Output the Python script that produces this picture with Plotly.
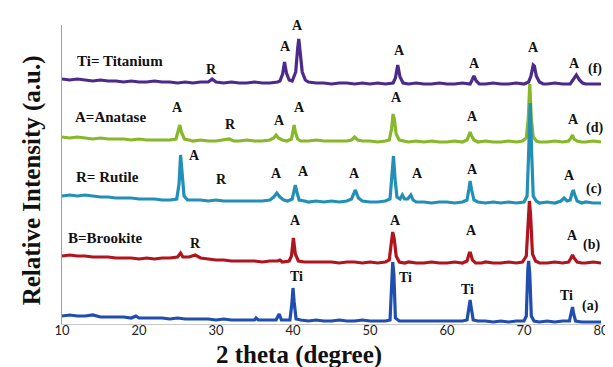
import plotly.graph_objects as go

# ---------------- data ----------------
# (f) purple
two_theta_f = [10, 11, 12, 13, 14, 15, 16, 17, 18, 19, 20, 21, 22, 23, 24, 25, 26, 27, 28, 29, 29.5, 30,
               31, 32, 33, 34, 35, 36, 37, 38, 38.3, 38.65, 38.9, 39.15, 39.5, 39.9, 40.35, 40.6, 40.75,
               40.9, 41.2, 41.6, 42, 43, 44, 45, 46, 47, 48, 49, 50, 51, 52, 53, 53.3, 53.6, 53.9, 54.3,
               55, 56, 57, 58, 59, 60, 61, 62, 63, 63.2, 63.5, 63.8, 64.2, 65, 66, 67, 68, 69, 70, 70.6,
               70.9, 71.2, 71.35, 71.6, 72, 72.5, 73, 74, 75, 76, 76.4, 76.8, 77.2, 77.6, 78, 79, 80]
intensity_f = [245, 244, 245, 244, 243, 244, 243, 243, 242, 243, 242, 242, 243, 242, 242, 241, 242, 241, 242, 242, 245, 242,
               241, 242, 241, 241, 242, 241, 241, 242, 243, 250, 262, 251, 244, 243, 252, 275, 285,
               274, 252, 244, 242, 241, 241, 240, 241, 241, 240, 241, 240, 241, 240, 241, 246, 259, 247, 241,
               240, 241, 240, 240, 241, 240, 240, 241, 240, 243, 248, 243, 240, 240, 241, 240, 240, 241, 240, 242,
               248, 259, 258, 248, 242, 240, 240, 241, 240, 240, 244, 249, 244, 241, 240, 240, 240]

# (d) green
two_theta_d = [10, 11, 12, 13, 14, 15, 16, 17, 18, 19, 20, 21, 22, 23, 24, 24.8, 25.1, 25.3, 25.5, 25.9, 26.5,
               27, 28, 29, 30, 31, 31.7, 32.3, 33, 34, 35, 36, 37, 37.5, 37.8, 38.1, 38.6, 39.2, 39.8, 40.0,
               40.15, 40.3, 40.6, 41, 42, 43, 44, 45, 46, 47, 47.6, 48, 48.4, 49, 50, 51, 52, 52.5, 52.8,
               53.0, 53.15, 53.4, 53.8, 54.5, 55, 56, 57, 58, 59, 60, 61, 62, 62.6, 62.85, 63.0, 63.2, 63.5,
               64, 65, 66, 67, 68, 69, 69.8, 70.3, 70.55, 70.75, 70.95, 71.2, 71.6, 72, 73, 74, 75, 75.8,
               76.1, 76.3, 76.5, 76.9, 77.5, 78, 79, 80]
intensity_d = [187, 186, 187, 186, 185, 186, 185, 185, 185, 184, 185, 184, 184, 184, 184, 185, 192, 199, 192, 185, 184,
               183, 184, 183, 183, 184, 185, 183, 183, 184, 183, 183, 184, 186, 189, 186, 184, 183, 185, 193,
               199, 192, 185, 183, 183, 184, 183, 183, 183, 183, 184, 187, 184, 183, 183, 182, 183, 184, 195,
               210, 205, 190, 184, 183, 182, 183, 182, 183, 182, 182, 183, 182, 184, 189, 192, 188, 184,
               182, 183, 182, 182, 183, 182, 183, 186, 205, 240, 205, 187, 183, 182, 182, 183, 182, 183,
               186, 189, 185, 183, 182, 182, 183, 182]

# (c) cyan
two_theta_c = [10, 11, 12, 13, 14, 15, 16, 17, 18, 19, 20, 21, 22, 23, 24, 24.9, 25.2, 25.4, 25.6, 25.85, 26.3,
               27, 28, 29, 30, 31, 32, 33, 34, 35, 36, 37, 37.5, 37.9, 38.3, 38.8, 39.3, 39.9, 40.15, 40.3,
               40.5, 40.8, 41.5, 42, 43, 44, 45, 46, 47, 47.6, 48.1, 48.5, 49, 50, 51, 52, 52.6, 52.85, 53.05,
               53.25, 53.5, 53.9, 54.2, 54.5, 54.9, 55.3, 55.6, 56, 57, 58, 59, 60, 61, 62, 62.6, 62.85, 63.0,
               63.2, 63.5, 64, 65, 66, 67, 68, 69, 70, 70.4, 70.6, 70.8, 71.0, 71.2, 71.6, 72, 73, 74, 74.8,
               75.2, 75.6, 76.0, 76.2, 76.4, 76.6, 76.9, 77.5, 78, 79, 80]
intensity_c = [128, 129, 128, 129, 128, 127, 127, 126, 126, 126, 125, 125, 125, 124, 124, 125, 140, 169, 150, 128, 124,
               124, 124, 123, 124, 123, 123, 123, 123, 123, 123, 124, 127, 131, 127, 124, 123, 125, 133, 139,
               132, 124, 123, 122, 123, 122, 123, 122, 123, 125, 134, 126, 123, 122, 122, 123, 125, 145, 168,
               145, 127, 125, 129, 125, 125, 129, 124, 122, 122, 121, 122, 122, 121, 122, 124, 135, 143,
               134, 124, 122, 121, 122, 121, 122, 121, 122, 128, 170, 221, 170, 128, 123, 121, 122, 121, 123,
               126, 123, 124, 130, 134, 129, 123, 121, 122, 121, 121]

# (b) red
two_theta_b = [10, 11, 12, 13, 14, 15, 16, 17, 18, 19, 20, 21, 22, 23, 24, 25, 25.4, 25.7, 26.5, 27.3, 28, 29,
               30, 31, 32, 33, 34, 35, 36, 37, 38, 38.3, 38.6, 39.5, 39.8, 40.05, 40.3, 40.7, 41.5, 42, 43,
               44, 45, 46, 47, 48, 49, 50, 51, 52, 52.5, 52.75, 52.95, 53.15, 53.4, 53.8, 54.5, 55, 56, 57,
               58, 59, 60, 61, 62, 62.6, 62.9, 63.05, 63.3, 63.7, 64.5, 65, 66, 67, 68, 69, 69.8, 70.3,
               70.55, 70.7, 70.85, 71.1, 71.5, 72, 73, 74, 75, 75.8, 76.1, 76.3, 76.5, 76.9, 77.5, 78, 79, 80]
intensity_b = [68, 69, 68, 68, 67, 67, 67, 66, 66, 66, 65, 66, 65, 66, 66, 67, 71, 67, 67, 69, 66, 65,
               64, 64, 63, 63, 63, 63, 62, 63, 63, 64, 62, 63, 68, 86, 70, 63, 62, 62, 62,
               62, 62, 61, 62, 62, 61, 62, 61, 62, 64, 80, 92, 85, 68, 62, 61, 62, 61, 61,
               62, 61, 61, 62, 61, 63, 71, 71, 64, 61, 61, 62, 61, 61, 62, 61, 62, 68,
               110, 123, 110, 70, 63, 61, 61, 62, 61, 62, 66, 69, 66, 62, 61, 61, 62, 61]

# (a) blue
two_theta_a = [10, 11, 12, 13, 14, 15, 16, 17, 18, 19, 19.6, 20, 21, 22, 23, 24, 25, 26, 27, 28, 29, 30, 31,
               32, 33, 34, 35, 35.2, 35.5, 36, 37, 37.8, 38.2, 38.5, 39, 39.6, 39.85, 40.0, 40.15, 40.4, 41,
               42, 43, 44, 45, 46, 47, 48, 49, 50, 51, 52, 52.6, 52.8, 52.95, 53.1, 53.3, 53.8, 54.5, 55,
               56, 57, 58, 59, 60, 61, 62, 62.6, 62.85, 63.0, 63.15, 63.4, 64, 65, 66, 67, 68, 69, 70, 70.3,
               70.5, 70.6, 70.75, 70.95, 71.3, 72, 73, 74, 75, 75.9, 76.15, 76.3, 76.45, 76.7, 77.5, 78, 79, 80]
intensity_a = [8, 9, 8, 8, 9, 7, 7, 7, 7, 6, 8, 6, 6, 6, 6, 5, 6, 5, 5, 5, 5, 4, 5,
               4, 4, 4, 4, 6, 4, 4, 4, 4, 10, 4, 4, 4, 20, 36, 22, 5, 4,
               3, 4, 3, 3, 4, 3, 3, 4, 3, 3, 3, 4, 30, 62, 50, 6, 3, 3, 3,
               3, 3, 3, 3, 3, 3, 3, 4, 18, 24, 16, 4, 3, 3, 2, 3, 2, 3, 3, 8,
               55, 63, 50, 8, 3, 2, 3, 2, 3, 3, 12, 17, 10, 3, 2, 2, 2, 2]

series_names = ["(f)", "(d)", "(c)", "(b)", "(a)"]
series_colors = ["#4B2A8C", "#86B829", "#2290B6", "#B0141E", "#1F4DB0"]

# text labels (phase marks, legend-like texts, sample tags)
label_text = ["Ti= Titanium", "R", "A", "A", "A", "A", "A", "A", "(f)",
              "A=Anatase", "A", "R", "A", "A", "A", "A", "A", "(d)",
              "R= Rutile", "A", "R", "A", "A", "A", "A", "A", "A", "(c)",
              "B=Brookite", "R", "A", "A", "A", "A", "(b)",
              "Ti", "Ti", "Ti", "Ti", "(a)"]
label_x = [17.53, 29.35, 39.09, 40.52, 53.77, 63.51, 71.17, 76.62, 79.22,
           16.36, 24.94, 31.82, 38.31, 40.78, 53.38, 63.25, 76.49, 79.22,
           15.97, 27.27, 30.65, 37.92, 41.30, 48.05, 56.23, 63.25, 75.97, 79.09,
           15.58, 27.40, 40.26, 53.25, 63.12, 76.36, 78.83,
           40.39, 54.55, 62.60, 75.58, 78.70]
label_y = [263, 255, 278, 299, 274, 261, 277, 261, 255,
           207, 217, 200, 204, 217, 227, 208, 205, 196,
           147, 169, 145, 151, 153, 151, 151, 155, 149, 135,
           86, 81, 104, 104, 94, 89, 79,
           48, 47, 35, 29, 18]

x_ticks = [10, 20, 30, 40, 50, 60, 70, 80]
x_title = "2 theta (degree)"
y_title = "Relative Intensity (a.u.)"

# ---------------- figure ----------------
xs = [two_theta_f, two_theta_d, two_theta_c, two_theta_b, two_theta_a]
ys = [intensity_f, intensity_d, intensity_c, intensity_b, intensity_a]

fig = go.Figure()
for name, color, x, y in zip(series_names, series_colors, xs, ys):
    fig.add_trace(go.Scatter(x=x, y=y, mode="lines", name=name,
                             line=dict(color=color, width=3.2), showlegend=False,
                             hoverinfo="skip"))

serif = "Liberation Serif"
for t, x, y in zip(label_text, label_x, label_y):
    big = len(t) > 4
    fig.add_annotation(x=x, y=y, xref="x", yref="y", text="<b>%s</b>" % t,
                       showarrow=False, xanchor="center", yanchor="middle",
                       font=dict(family=serif, size=15 if big else 14, color="#111111"))

fig.add_annotation(xref="paper", yref="paper", x=0.44, y=-0.104, text="<b>%s</b>" % x_title,
                   showarrow=False, xanchor="center", yanchor="middle",
                   font=dict(family=serif, size=25, color="#111111"))
fig.add_annotation(xref="paper", yref="paper", x=-0.054, y=0.48, text="<b>%s</b>" % y_title,
                   textangle=-90, showarrow=False, xanchor="center", yanchor="middle",
                   font=dict(family=serif, size=25, color="#111111"))

fig.update_layout(
    width=613, height=367,
    margin=dict(l=54, r=20, t=17, b=51),
    paper_bgcolor="white", plot_bgcolor="white",
    xaxis=dict(range=[10, 80], tickvals=x_ticks, ticktext=[str(v) for v in x_ticks],
               showgrid=False, zeroline=False, showline=True, linecolor="#c8c8c8", linewidth=1,
               ticks="", ticklabelstandoff=-6,
               tickfont=dict(family="Lato", size=13, color="#222222")),
    yaxis=dict(range=[0, 299], showticklabels=False, showgrid=False, zeroline=False,
               showline=True, linecolor="#a0a0a0", linewidth=1, ticks=""),
)

fig.write_html("out.html")
